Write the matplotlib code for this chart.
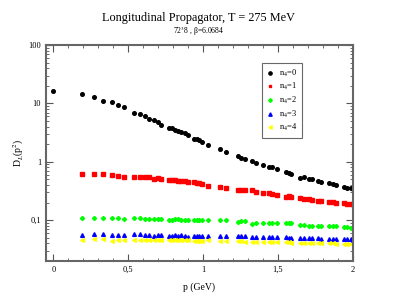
import matplotlib
matplotlib.use('Agg')
import matplotlib.pyplot as plt
from matplotlib.ticker import FixedLocator, MultipleLocator, LogLocator, FuncFormatter, NullFormatter

plt.rcParams['font.family'] = ['Liberation Serif', 'DejaVu Serif']
plt.rcParams['mathtext.fontset'] = 'stix'

# momenta (GeV), common to all n4
p = [0.19, 0.27, 0.33, 0.39, 0.43, 0.47, 0.54, 0.58, 0.61, 0.64,
     0.67, 0.70, 0.72, 0.77, 0.79, 0.81, 0.83, 0.855, 0.88, 0.90,
     0.94, 0.96, 0.975, 0.995, 1.03, 1.115, 1.15, 1.23, 1.255, 1.28,
     1.325, 1.35, 1.40, 1.44, 1.46, 1.49, 1.55, 1.57, 1.585, 1.65,
     1.675, 1.71, 1.73, 1.77, 1.79, 1.84, 1.865, 1.89, 1.94, 1.96,
     1.985, 2.0]

p0 = [0.0]
d0_zero = [16.5]

d_n0 = [14.7, 12.8, 11.0, 10.4, 9.4, 8.6, 6.9, 6.5, 6.0, 5.5,
        5.3, 4.8, 4.35, 3.8, 3.75, 3.56, 3.42, 3.25, 3.12, 2.84,
        2.49, 2.42, 2.33, 2.2, 1.97, 1.64, 1.46, 1.27, 1.17, 1.11,
        1.02, 0.96, 0.87, 0.81, 0.80, 0.75, 0.66, 0.64, 0.62, 0.53,
        0.56, 0.51, 0.50, 0.47, 0.45, 0.435, 0.42, 0.40, 0.37, 0.36,
        0.355, 0.343]
d_n1 = [0.62, 0.61, 0.61, 0.59, 0.58, 0.55, 0.55, 0.54, 0.54, 0.54,
        0.50, 0.52, 0.51, 0.49, 0.49, 0.48, 0.47, 0.47, 0.46, 0.45,
        0.45, 0.44, 0.43, 0.42, 0.39, 0.37, 0.35, 0.325, 0.325, 0.325,
        0.33, 0.30, 0.29, 0.29, 0.28, 0.27, 0.25, 0.26, 0.245, 0.24,
        0.235, 0.227, 0.225, 0.216, 0.216, 0.205, 0.205, 0.20, 0.194, 0.192,
        0.19, 0.188]
d_n2 = [0.109, 0.109, 0.109, 0.111, 0.109, 0.104, 0.107, 0.107, 0.106, 0.106,
        0.105, 0.105, 0.105, 0.101, 0.101, 0.103, 0.103, 0.101, 0.100, 0.099,
        0.101, 0.100, 0.099, 0.099, 0.099, 0.099, 0.099, 0.094, 0.095, 0.095,
        0.087, 0.091, 0.091, 0.089, 0.088, 0.089, 0.088, 0.088, 0.088, 0.083,
        0.083, 0.081, 0.081, 0.080, 0.080, 0.080, 0.080, 0.079, 0.077, 0.075,
        0.074, 0.075]
d_n3 = [0.056, 0.058, 0.059, 0.055, 0.056, 0.056, 0.057, 0.057, 0.056, 0.055,
        0.054, 0.055, 0.055, 0.054, 0.054, 0.055, 0.053, 0.055, 0.053, 0.052,
        0.054, 0.053, 0.053, 0.054, 0.054, 0.0546, 0.0546, 0.053, 0.053, 0.053,
        0.052, 0.052, 0.052, 0.051, 0.051, 0.052, 0.051, 0.050, 0.050, 0.050,
        0.050, 0.049, 0.049, 0.049, 0.048, 0.048, 0.048, 0.047, 0.047, 0.047,
        0.047, 0.046]
d_n4 = [0.046, 0.047, 0.047, 0.044, 0.046, 0.046, 0.045, 0.045, 0.045, 0.045,
        0.046, 0.046, 0.046, 0.046, 0.046, 0.046, 0.045, 0.045, 0.045, 0.045,
        0.044, 0.044, 0.044, 0.044, 0.045, 0.0448, 0.0448, 0.0435, 0.0435, 0.0425,
        0.043, 0.043, 0.042, 0.042, 0.042, 0.042, 0.042, 0.042, 0.041, 0.041,
        0.041, 0.040, 0.041, 0.040, 0.040, 0.040, 0.040, 0.039, 0.039, 0.039,
        0.039, 0.039]

fig = plt.figure(figsize=(3.98, 3.07), dpi=100)
ax = fig.add_axes([0.1156, 0.15, 0.771, 0.703])

ax.plot(p0 + p, d0_zero + d_n0, 'o', color='black', ms=2.6, label='n$_4$=0')
ax.plot(p, d_n1, 's', color='#ff0000', ms=2.3, label='n$_4$=1')
ax.plot(p, d_n2, 'D', color='#00ff00', ms=2.1, label='n$_4$=2')
ax.plot(p, d_n3, '^', color='#0000ff', ms=2.7, label='n$_4$=3')
ax.plot(p, d_n4, '<', color='#ffff00', ms=2.7, label='n$_4$=4')

ax.set_yscale('log')
ax.set_xlim(-0.05, 2.0)
ax.set_ylim(0.02, 100)

ax.xaxis.set_major_locator(MultipleLocator(0.5))
ax.xaxis.set_minor_locator(MultipleLocator(0.1))
ax.xaxis.set_major_formatter(FuncFormatter(lambda v, pos: ('%g' % v).replace('.', ',')))
ax.yaxis.set_major_locator(FixedLocator([0.1, 1, 10, 100]))
ax.yaxis.set_minor_locator(LogLocator(base=10, subs=range(2, 10)))
ax.yaxis.set_minor_formatter(NullFormatter())
ax.yaxis.set_major_formatter(FuncFormatter(lambda v, pos: ('%g' % v).replace('.', ',')))

ax.tick_params(which='both', direction='in', top=True, right=True, labelsize=6, color='#555555')
ax.tick_params(which='major', length=5, width=0.8)
ax.tick_params(which='minor', length=2.5, width=0.6)
for s in ax.spines.values():
    s.set_color('#666666')
    s.set_linewidth(1.5)

ax.set_xlabel('p (GeV)', fontsize=7, labelpad=6)
ax.set_ylabel('D$_L$(p$^2$)', fontsize=7, labelpad=2)

fig.text(0.5, 0.942, 'Longitudinal Propagator, T = 275 MeV', ha='center', va='center', fontsize=8.8)
fig.text(0.5, 0.897, '72$^3$8 , β=6.0684', ha='center', va='center', fontsize=5.5)

leg = ax.legend(loc='upper left', bbox_to_anchor=(0.69, 0.935), fontsize=6, frameon=True,
                fancybox=False, edgecolor='#444444', handlelength=1.0, handletextpad=0.6,
                labelspacing=0.3, borderpad=0.5, markerscale=0.9)
leg.get_frame().set_linewidth(0.8)

fig.savefig('out.png', dpi=100)
